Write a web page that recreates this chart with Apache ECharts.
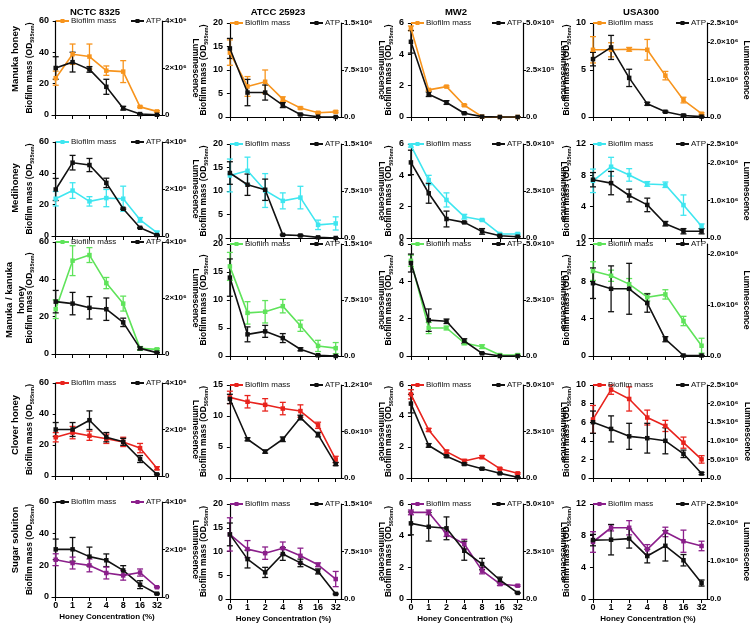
<!DOCTYPE html>
<html><head><meta charset="utf-8">
<script src="https://cdn.jsdelivr.net/npm/echarts@6/dist/echarts.min.js"></script>
<style>html,body{margin:0;padding:0;background:#fff}#c{width:750px;height:625px}</style>
</head><body><div id="c"></div>
<script>
// ---------------- DATA ----------------
const concentrations = ['0','1','2','4','8','16','32'];
const strains = ['NCTC 8325','ATCC 25923','MW2','USA300'];
const honeys = ['Manuka honey','Medihoney','Manuka / kanuka\nhoney','Clover honey','Sugar soluiton'];

// each array: [NCTC 8325, ATCC 25923, MW2, USA300], values per concentration
const manukaBiofilm = [
 [23.5,38.8,37.3,28.3,27.7,5.2,2.3],
 [13.7,6.5,7.5,3.8,1.9,0.9,1.1],
 [5.66,1.73,1.94,0.75,0.02,0,0],
 [7.15,7.15,7.2,7.15,4.4,1.8,0.35]];
const manukaBiofilmErr = [
 [4.5,6.5,8,3,7,0.5,0.5],
 [2.7,2.1,2.5,0.5,0.2,0.2,0.2],
 [0.15,0.05,0.05,0.05,0,0,0],
 [1.4,0.75,0.2,1.1,0.45,0.3,0.1]];
const manukaATP = [
 [2.0e6,2.25e6,1.94e6,1.2e6,0.29e6,0.04e6,0.01e6],
 [1.094e6,0.39e6,0.39e6,0.19e6,0.04e6,0.005e6,0],
 [4.0e5,1.21e5,0.77e5,0.2e5,0.02e5,0,0],
 [1.54e6,1.85e6,1.04e6,0.35e6,0.14e6,0.04e6,0.01e6]];
const manukaATPErr = [
 [0.48e6,0.42e6,0.12e6,0.32e6,0.08e6,0.01e6,0],
 [0.16e6,0.21e6,0.12e6,0.04e6,0.01e6,0,0],
 [0.6e5,0.12e5,0.1e5,0.03e5,0,0,0],
 [0.18e6,0.32e6,0.23e6,0.04e6,0.02e6,0.03e6,0.01e6]];

const mediBiofilm = [
 [23.8,29,22.1,24.2,23.8,10.3,2.1],
 [13.3,14.3,10.1,7.9,8.6,2.8,3.1],
 [5.9,3.7,2.43,1.36,1.15,0.26,0.26],
 [7.3,9.1,8.05,6.9,6.8,4.2,1.5]];
const mediBiofilmErr = [
 [4.6,5,3,5.5,8,1.5,1],
 [3.5,2.9,3.6,1.7,2.4,1.0,1.4],
 [0.1,0.3,0.45,0.15,0.05,0.05,0.05],
 [1.5,1.2,0.8,0.3,0.35,1.3,0.3]];
const mediATP = [
 [1.98e6,3.12e6,3.02e6,2.26e6,1.16e6,0.35e6,0.04e6],
 [1.037e6,0.85e6,0.77e6,0.05e6,0.04e6,0.01e6,0],
 [4.02e5,2.38e5,1.01e5,0.83e5,0.35e5,0.12e5,0.07e5],
 [1.55e6,1.46e6,1.13e6,0.88e6,0.38e6,0.18e6,0.18e6]];
const mediATPErr = [
 [0.47e6,0.31e6,0.28e6,0.2e6,0.03e6,0.02e6,0.01e6],
 [0.18e6,0.17e6,0.17e6,0.01e6,0.01e6,0,0],
 [0.65e5,0.53e5,0.42e5,0.03e5,0.15e5,0.05e5,0.02e5],
 [0.19e6,0.31e6,0.17e6,0.18e6,0.06e6,0.07e6,0.07e6]];

const kanukaBiofilm = [
 [24,50,53,38,27,3,2.5],
 [16,7.7,7.9,8.9,5.4,1.8,1.4],
 [5.1,1.5,1.5,0.7,0.5,0.05,0.05],
 [9.1,8.6,7.7,6.3,6.6,3.75,1.1]];
const kanukaBiofilmErr = [
 [5,8,4,3,4,1,0.5],
 [2.5,2,2,1.2,1,1,1],
 [0.3,0.3,0.1,0.1,0.1,0.05,0.05],
 [1,0.6,0.6,0.4,0.5,0.5,0.8]];
const kanukaATP = [
 [1.87e6,1.8e6,1.65e6,1.6e6,1.13e6,0.2e6,0.05e6],
 [1.05e6,0.29e6,0.33e6,0.24e6,0.09e6,0.01e6,0],
 [4.15e5,1.6e5,1.55e5,0.67e5,0.12e5,0,0],
 [1.43e6,1.32e6,1.32e6,1.04e6,0.33e6,0.01e6,0.01e6]];
const kanukaATPErr = [
 [0.4e6,0.4e6,0.4e6,0.4e6,0.15e6,0.05e6,0.01e6],
 [0.25e6,0.1e6,0.08e6,0.06e6,0.02e6,0,0],
 [0.4e5,0.5e5,0.1e5,0.1e5,0.02e5,0,0],
 [0.3e6,0.45e6,0.5e6,0.18e6,0.05e6,0,0]];

const cloverBiofilm = [
 [25,28,26,24,22,18,5],
 [13,12.3,11.8,11.2,10.8,8.5,3],
 [5.4,3.1,1.7,1.1,1.35,0.6,0.3],
 [6.3,9.5,8.5,6.5,5.6,3.8,2]];
const cloverBiofilmErr = [
 [3,4,3,3,3,3,1],
 [1,1,1,1,1,0.5,0.5],
 [0.3,0.1,0.1,0.1,0.1,0.05,0.05],
 [1.5,0.5,1.3,0.8,0.6,0.6,0.4]];
const cloverATP = [
 [2.0e6,2.0e6,2.4e6,1.67e6,1.47e6,0.73e6,0.07e6],
 [1.02e6,0.5e6,0.34e6,0.5e6,0.78e6,0.56e6,0.18e6],
 [4.0e5,1.75e5,1.17e5,0.75e5,0.5e5,0.25e5,0.04e5],
 [1.5e6,1.32e6,1.12e6,1.07e6,1.0e6,0.65e6,0.12e6]];
const cloverATPErr = [
 [0.3e6,0.3e6,0.4e6,0.2e6,0.15e6,0.15e6,0.02e6],
 [0.06e6,0.02e6,0.02e6,0.03e6,0.03e6,0.03e6,0.02e6],
 [0.5e5,0.1e5,0.05e5,0.05e5,0.05e5,0.03e5,0.01e5],
 [0.3e6,0.35e6,0.35e6,0.4e6,0.35e6,0.1e6,0.03e6]];

const sugarBiofilm = [
 [30.1,30.1,25.5,23.2,16.8,7.8,2.1],
 [13.6,10.5,9.65,10.7,9.1,7.2,4.2],
 [5.47,5.47,4.1,3.47,1.79,0.95,0.84],
 [7.2,9.0,9.0,6.27,8.47,7.3,6.7]];
const sugarBiofilmErr = [
 [6.5,7.5,6,4,3,2.5,0.3],
 [3.5,1.8,1.3,1.3,1.6,0.4,1.6],
 [0.15,0.15,0.15,0.3,0.2,0.1,0.05],
 [1.3,0.4,0.9,0.6,0.6,1.4,0.6]];
const sugarATP = [
 [1.57e6,1.43e6,1.33e6,1.01e6,0.91e6,1.03e6,0.41e6],
 [1.02e6,0.63e6,0.42e6,0.71e6,0.57e6,0.435e6,0.08e6],
 [3.98e5,3.8e5,3.72e5,2.54e5,1.84e5,1.0e5,0.32e5],
 [1.55e6,1.56e6,1.59e6,1.13e6,1.4e6,1.02e6,0.42e6]];
const sugarATPErr = [
 [0.25e6,0.25e6,0.27e6,0.25e6,0.2e6,0.15e6,0.02e6],
 [0.18e6,0.14e6,0.08e6,0.1e6,0.06e6,0.04e6,0.01e6],
 [0.6e5,0.75e5,0.6e5,0.5e5,0.3e5,0.15e5,0.02e5],
 [0.15e6,0.4e6,0.25e6,0.18e6,0.4e6,0.15e6,0.08e6]];

// tick values / labels
const leftTicksManuka = [[0,20,40,60],[0,5,10,15,20],[0,2,4,6],[0,5,10]];
const leftTicksMedihoney = [[0,20,40,60],[0,5,10,15,20],[0,2,4,6],[0,4,8,12]];
const leftTicksKanuka = [[0,20,40,60],[0,5,10,15,20],[0,2,4,6],[0,4,8,12]];
const leftTicksClover = [[0,20,40,60],[0,5,10,15],[0,2,4,6],[0,2,4,6,8,10]];
const leftTicksSugar = [[0,20,40,60],[0,5,10,15,20],[0,2,4,6],[0,4,8,12]];
const rightTicksStd = [[0,2e6,4e6],[0,7.5e5,1.5e6],[0,2.5e5,5e5],[0,1e6,2e6,2.5e6]];
const rightLabelsStd = [['0','2×10⁶','4×10⁶'],['0.0','7.5×10⁵','1.5×10⁶'],['0.0','2.5×10⁵','5.0×10⁵'],['0.0','1.0×10⁶','2.0×10⁶','2.5×10⁶']];
const rightTicksKanuka = [[0,2e6,4e6],[0,7.5e5,1.5e6],[0,2.5e5,5e5],[0,1e6,2e6]];
const rightMaxKanuka = [4e6,1.5e6,5e5,2.2e6];
const rightLabelsKanuka = [['0','2×10⁶','4×10⁶'],['0.0','7.5×10⁵','1.5×10⁶'],['0.0','2.5×10⁵','5.0×10⁵'],['0.0','1.0×10⁶','2.0×10⁶']];
const rightTicksClover = [[0,2e6,4e6],[0,6e5,1.2e6],[0,2.5e5,5e5],[0,5e5,1e6,1.5e6,2e6,2.5e6]];
const rightLabelsClover = [['0','2×10⁶','4×10⁶'],['0.0','6.0×10⁵','1.2×10⁶'],['0.0','2.5×10⁵','5.0×10⁵'],['0.0','5.0×10⁵','1.0×10⁶','1.5×10⁶','2.0×10⁶','2.5×10⁶']];

// ---------------- STYLE / LAYOUT ----------------
const rowColors = ['#F7941D','#3FE6F0','#5FE35A','#E8231D','#8B1F8B'];
const FONT = 'Liberation Sans, Arial, sans-serif';
const colLeft = [52,226,407,589], colRight = [162,341,523,707], colShift = [-2,0,0,0];
const rowTop = [23,144,244,385,504], rowBottom = [117,238,356,478,599];
const leftNameGap = [16,13,13,11], rightNameGap = [24,31,31,31];

const rows = [
 {bio:manukaBiofilm, bioE:manukaBiofilmErr, atp:manukaATP, atpE:manukaATPErr, lt:leftTicksManuka, rt:rightTicksStd, rl:rightLabelsStd},
 {bio:mediBiofilm, bioE:mediBiofilmErr, atp:mediATP, atpE:mediATPErr, lt:leftTicksMedihoney, rt:rightTicksStd, rl:rightLabelsStd},
 {bio:kanukaBiofilm, bioE:kanukaBiofilmErr, atp:kanukaATP, atpE:kanukaATPErr, lt:leftTicksKanuka, rt:rightTicksKanuka, rl:rightLabelsKanuka, rmax:rightMaxKanuka},
 {bio:cloverBiofilm, bioE:cloverBiofilmErr, atp:cloverATP, atpE:cloverATPErr, lt:leftTicksClover, rt:rightTicksClover, rl:rightLabelsClover},
 {bio:sugarBiofilm, bioE:sugarBiofilmErr, atp:sugarATP, atpE:sugarATPErr, lt:leftTicksSugar, rt:rightTicksStd, rl:rightLabelsStd}
];

function errSeries(data, err, color, xi, yi) {
  return {
    type:'custom', xAxisIndex:xi, yAxisIndex:yi, silent:true, z:2, animation:false,
    data: data.map((v,i)=>[i, Math.max(0, v-err[i]), v+err[i]]),
    encode:{x:0, y:[1,2]},
    renderItem:(params, api)=>{
      const x = api.value(0);
      const lo = api.coord([x, api.value(1)]), hi = api.coord([x, api.value(2)]);
      const w = 3, st = {stroke:color, lineWidth:1.3};
      return {type:'group', children:[
        {type:'line', shape:{x1:lo[0],y1:lo[1],x2:hi[0],y2:hi[1]}, style:st},
        {type:'line', shape:{x1:lo[0]-w,y1:lo[1],x2:lo[0]+w,y2:lo[1]}, style:st},
        {type:'line', shape:{x1:hi[0]-w,y1:hi[1],x2:hi[0]+w,y2:hi[1]}, style:st}
      ]};
    }
  };
}

const grids=[], xAxes=[], yAxes=[], series=[], legends=[];
const idx = concentrations.map((_,i)=>i);
rows.forEach((row, r) => {
  for (let c=0;c<4;c++) {
    const g = r*4+c;
    const L=colLeft[c], R=colRight[c], T=rowTop[r]+colShift[c], B=rowBottom[r]+colShift[c];
    grids.push({left:L, top:T, width:R-L, height:B-T, containLabel:false, outerBoundsMode:'none'});
    const bottomRow = r===4;
    xAxes.push({
      type:'value', gridIndex:g, min:-0.22, max:6.3,
      axisLine:{show:true, onZero:false, lineStyle:{color:'#000', width:1.2}},
      axisTick:{show:true, customValues:idx, length:4, lineStyle:{color:'#000', width:1}},
      axisLabel:{show:bottomRow, customValues:idx, formatter:v=>concentrations[Math.round(v)],
        fontSize:9, fontWeight:'bold', color:'#000', margin:4, fontFamily:FONT},
      splitLine:{show:false},
      name: bottomRow ? 'Honey Concentration (%)' : '', nameLocation:'middle', nameGap:16,
      nameTextStyle:{fontSize:8, fontWeight:'bold', color:'#000', fontFamily:FONT}
    });
    const lt = row.lt[c], rt = row.rt[c], rl = row.rl[c];
    const rmax = row.rmax ? row.rmax[c] : rt[rt.length-1];
    yAxes.push({
      type:'value', gridIndex:g, position:'left', min:0, max:lt[lt.length-1],
      axisLine:{show:true, lineStyle:{color:'#000', width:1.2}},
      axisTick:{show:true, customValues:lt, length:3, lineStyle:{color:'#000'}},
      axisLabel:{customValues:lt, fontSize:9, fontWeight:'bold', color:'#000', margin:3, fontFamily:FONT},
      splitLine:{show:false},
      name:'{a|Biofilm mass (OD}{s|595nm}{a|)}', nameLocation:'middle', nameGap:leftNameGap[c],
      nameTextStyle:{rich:{
        a:{fontSize:8.5, fontWeight:'bold', color:'#000', fontFamily:FONT},
        s:{fontSize:5.5, fontWeight:'bold', color:'#000', fontFamily:FONT, verticalAlign:'bottom', padding:[4,0,0,0]}
      }}
    });
    yAxes.push({
      type:'value', gridIndex:g, position:'right', min:0, max:rmax,
      axisLine:{show:true, lineStyle:{color:'#000', width:1.2}},
      axisTick:{show:true, customValues:rt, length:3, lineStyle:{color:'#000'}},
      axisLabel:{customValues:rt, fontSize:8, fontWeight:'bold', color:'#000', margin:3, fontFamily:FONT,
        formatter:v=>{ let k=0, d=Infinity; rt.forEach((t,j)=>{ if(Math.abs(t-v)<d){d=Math.abs(t-v);k=j;} }); return rl[k]; }},
      splitLine:{show:false},
      name:'Luminescence', nameLocation:'middle', nameRotate:-90, nameGap:rightNameGap[c],
      nameTextStyle:{fontSize:8.5, fontWeight:'bold', color:'#000', fontFamily:FONT}
    });
    const swap = (r===4 && c===0);
    const bioColor = swap ? '#111' : rowColors[r];
    const atpColor = swap ? rowColors[r] : '#111';
    const bioName = 'Biofilm mass#'+g, atpName = 'ATP#'+g;
    series.push(errSeries(row.bio[c], row.bioE[c], bioColor, g, 2*g));
    series.push(errSeries(row.atp[c], row.atpE[c], atpColor, g, 2*g+1));
    series.push({type:'line', name:bioName, xAxisIndex:g, yAxisIndex:2*g, animation:false, z:3,
      data: row.bio[c].map((v,i)=>[i,v]), symbol:'rect', symbolSize:4.5,
      lineStyle:{color:bioColor, width:1.6}, itemStyle:{color:bioColor}});
    series.push({type:'line', name:atpName, xAxisIndex:g, yAxisIndex:2*g+1, animation:false, z:4,
      data: row.atp[c].map((v,i)=>[i,v]), symbol:'rect', symbolSize:4.5,
      lineStyle:{color:atpColor, width:1.6}, itemStyle:{color:atpColor}});
    const lg = {itemWidth:13, itemHeight:5, itemGap:2, padding:0, selectedMode:false,
      textStyle:{fontSize:8, color:'#111', fontFamily:FONT, padding:[0,0,0,-3]},
      formatter:n=>n.split('#')[0]};
    legends.push(Object.assign({}, lg, {data:[bioName], left:L+3, top:T-4}));
    legends.push(Object.assign({}, lg, {data:[atpName], left:R-32, top:T-4}));
  }
});

const colTitleX = [95,278,456,641];
const rowLabelY = [59,188,300,425,540];
const graphics = [];
strains.forEach((s,c)=>graphics.push({type:'text', x:colTitleX[c], y:12,
  style:{text:s, font:'bold 9.5px '+FONT, fill:'#000', textAlign:'center', textVerticalAlign:'middle'}}));
honeys.forEach((h,r)=>graphics.push({type:'text', x:15, y:rowLabelY[r], rotation:Math.PI/2,
  style:{text:h, font:'bold 9.5px '+FONT, fill:'#000', textAlign:'center', textVerticalAlign:'middle', lineHeight:12}}));

const chart = echarts.init(document.getElementById('c'), null, {width:750, height:625});
chart.setOption({
  animation:false, backgroundColor:'#fff',
  grid:grids, xAxis:xAxes, yAxis:yAxes, series:series, legend:legends, graphic:graphics
});
</script>
</body></html>
